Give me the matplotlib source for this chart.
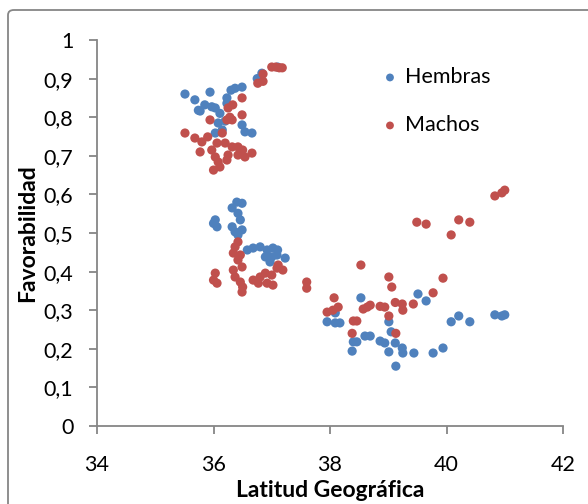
import matplotlib
matplotlib.use("Agg")
import matplotlib.pyplot as plt
from matplotlib.patches import FancyBboxPatch

plt.rcParams['font.family'] = ['Lato', 'DejaVu Sans']

# Hembras (blue)
hem_lat = [35.51, 35.68, 35.77, 35.94, 35.85, 36.03, 36.11, 36.23, 36.30, 36.37, 36.49, 36.20,
           36.83, 36.75, 37.10, 35.74, 35.97, 36.08, 36.15, 36.49, 36.54, 36.66, 36.23, 36.03,
           36.40, 36.49, 36.32, 36.42, 36.46, 36.03, 36.00, 36.06, 36.32, 36.37, 36.49, 36.42,
           36.58, 36.68, 36.80, 36.92, 37.02, 37.10, 36.89, 37.00, 37.09, 37.23, 36.97,
           38.53, 39.51, 39.65, 38.09, 37.95, 38.09, 38.17, 39.01, 39.05, 38.60, 38.69,
           38.40, 38.46, 38.86, 38.94, 39.12, 38.38, 39.01, 39.24, 39.25, 39.44, 39.77,
           39.94, 39.13, 40.08, 40.21, 40.40, 40.83, 40.95, 41.00]
hem_fav = [0.860, 0.845, 0.816, 0.865, 0.832, 0.824, 0.810, 0.850, 0.870, 0.875, 0.878, 0.790,
           0.914, 0.900, 0.930, 0.818, 0.827, 0.785, 0.767, 0.780, 0.762, 0.759, 0.836, 0.759,
           0.580, 0.577, 0.565, 0.551, 0.534, 0.534, 0.525, 0.516, 0.516, 0.503, 0.508, 0.495,
           0.456, 0.461, 0.464, 0.456, 0.461, 0.456, 0.438, 0.438, 0.443, 0.435, 0.425,
           0.332, 0.342, 0.324, 0.293, 0.270, 0.267, 0.267, 0.270, 0.244, 0.233, 0.233,
           0.218, 0.218, 0.220, 0.215, 0.215, 0.194, 0.192, 0.202, 0.189, 0.189, 0.189,
           0.202, 0.155, 0.270, 0.285, 0.270, 0.288, 0.285, 0.288]

# Machos (red)
mac_lat = [37.00, 37.07, 37.13, 37.18, 36.85, 36.76, 36.85, 36.49, 36.33, 36.25, 36.49, 36.23,
           36.32, 35.94, 35.51, 35.68, 35.80, 35.90, 36.15, 35.77, 35.97, 36.03, 36.08, 36.00,
           36.11, 36.23, 36.32, 36.42, 36.50, 36.54, 36.66, 36.25, 36.42, 36.20, 36.06, 36.28,
           36.42, 36.37, 36.34, 36.46, 36.42, 36.49, 36.34, 36.37, 36.46, 36.50, 36.49, 36.03,
           36.00, 36.06, 36.68, 36.80, 36.89, 36.92, 37.02, 37.00, 37.09, 37.19, 37.11, 36.77,
           37.60, 37.60,
           40.83, 40.95, 41.00, 39.49, 39.65, 40.21, 40.40, 40.08, 38.53, 39.01, 39.06, 39.94,
           39.77, 38.07, 38.14, 38.05, 37.95, 38.64, 38.69, 38.57, 38.86, 38.94, 39.12, 39.24,
           39.25, 39.01, 39.43, 38.46, 38.40, 38.38, 39.13]
mac_fav = [0.930, 0.930, 0.928, 0.928, 0.912, 0.888, 0.893, 0.850, 0.832, 0.824, 0.806, 0.793,
           0.793, 0.793, 0.759, 0.746, 0.736, 0.749, 0.759, 0.710, 0.715, 0.697, 0.684, 0.663,
           0.671, 0.689, 0.723, 0.723, 0.715, 0.697, 0.707, 0.702, 0.702, 0.733, 0.733, 0.800,
           0.477, 0.464, 0.448, 0.443, 0.430, 0.412, 0.404, 0.386, 0.373, 0.360, 0.347, 0.396,
           0.378, 0.370, 0.378, 0.386, 0.396, 0.370, 0.365, 0.391, 0.409, 0.404, 0.417, 0.370,
           0.373, 0.357,
           0.596, 0.604, 0.611, 0.528, 0.523, 0.534, 0.528, 0.495, 0.417, 0.386, 0.360, 0.383,
           0.345, 0.332, 0.308, 0.300, 0.295, 0.308, 0.313, 0.303, 0.310, 0.308, 0.320, 0.316,
           0.300, 0.285, 0.316, 0.272, 0.272, 0.240, 0.240]

x_ticks = [34, 36, 38, 40, 42]
y_ticks = [0, 0.1, 0.2, 0.3, 0.4, 0.5, 0.6, 0.7, 0.8, 0.9, 1.0]
y_tick_labels = ['0', '0,1', '0,2', '0,3', '0,4', '0,5', '0,6', '0,7', '0,8', '0,9', '1']

blue = '#4F81BD'
red = '#C0504D'
grey = '#868686'

fig = plt.figure(figsize=(5.88, 5.04), dpi=100)
ax = fig.add_axes([0.165, 0.1548, 0.7925, 0.7658])

ax.scatter(hem_lat, hem_fav, s=44, color=blue, edgecolors='none', label='Hembras', zorder=3)
ax.scatter(mac_lat, mac_fav, s=44, color=red, edgecolors='none', label='Machos', zorder=4)

ax.set_xlim(34, 42)
ax.set_ylim(0, 1)
ax.set_xticks(x_ticks)
ax.set_xticklabels([str(v) for v in x_ticks])
ax.set_yticks(y_ticks)
ax.set_yticklabels(y_tick_labels)

for s in ['top', 'right']:
    ax.spines[s].set_visible(False)
for s in ['left', 'bottom']:
    ax.spines[s].set_color(grey)
    ax.spines[s].set_linewidth(1.3)
ax.tick_params(axis='both', color=grey, width=1.3, length=6, labelsize=15.5, labelcolor='black')
ax.tick_params(axis='x', pad=15)
ax.tick_params(axis='y', pad=11)

ax.set_xlabel('Latitud Geográfica', fontsize=16.5, fontweight='bold')
ax.xaxis.set_label_coords(0.5, -0.168)
ax.xaxis.label.set_verticalalignment('center')
ax.set_ylabel('Favorabilidad', fontsize=16.5, fontweight='bold')
ax.yaxis.set_label_coords(-0.148, 0.5)
ax.yaxis.label.set_verticalalignment('center')

leg = ax.legend(loc='upper left', bbox_to_anchor=(0.564, 0.98), frameon=False,
                fontsize=15.5, markerscale=0.85, handletextpad=0.2, labelspacing=1.3,
                handlelength=1.0)

border = FancyBboxPatch((8 / 588, -0.05), 1.0, 1.0 - 10 / 504 + 0.05,
                        boxstyle='round,pad=0,rounding_size=0.01',
                        transform=fig.transFigure, fill=False, edgecolor=grey,
                        linewidth=1.3, clip_on=False)
fig.patches.append(border)

fig.savefig('out.png', dpi=100)
